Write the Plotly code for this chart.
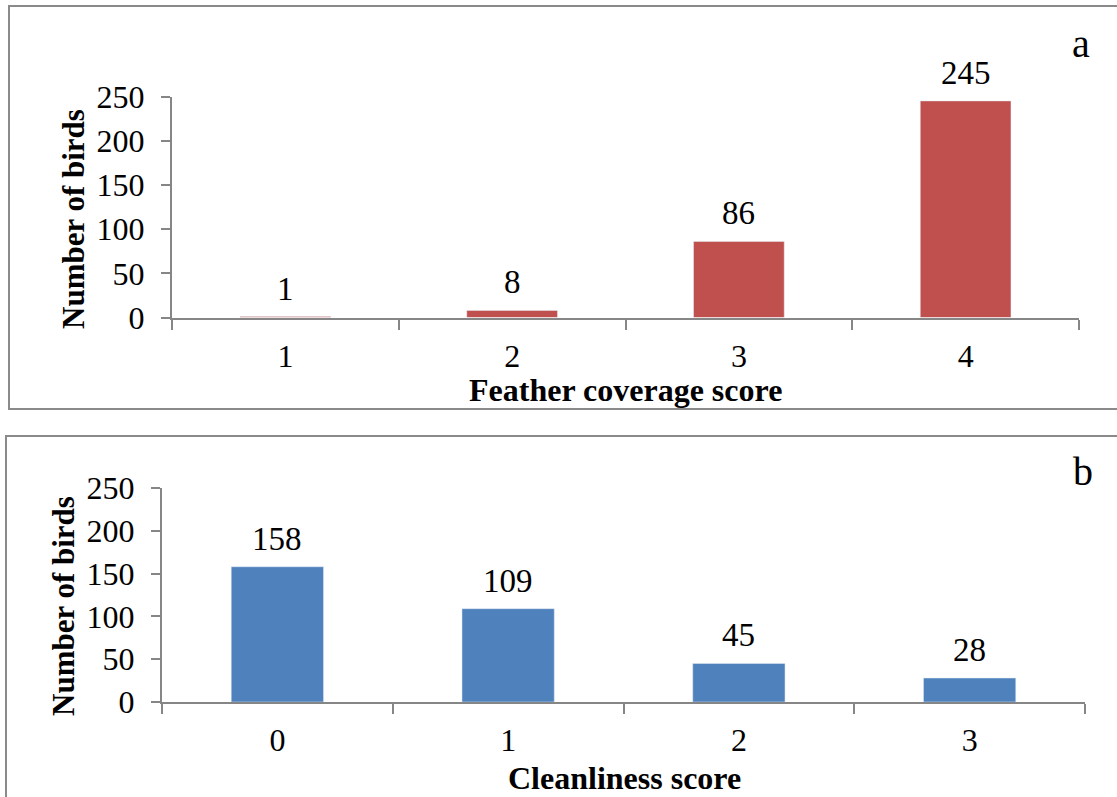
import plotly.graph_objects as go

# Panel a: feather coverage
feather_scores = ["1", "2", "3", "4"]
feather_counts = [1, 8, 86, 245]

# Panel b: cleanliness
clean_scores = ["0", "1", "2", "3"]
clean_counts = [158, 109, 45, 28]

y_ticks = [0, 50, 100, 150, 200, 250]

W, H = 1117, 797
FONT = "Liberation Serif, Times New Roman, serif"
AXIS_GREY = "#868686"
RED = "#C0504D"
BLUE = "#4F81BD"


def px_x(x):
    return x / W


def px_y(y):
    return 1 - y / H


fig = go.Figure()

fig.add_trace(go.Bar(x=feather_scores, y=feather_counts, marker_color=RED,
                     xaxis="x", yaxis="y", showlegend=False, hoverinfo="skip"))
fig.add_trace(go.Bar(x=clean_scores, y=clean_counts, marker_color=BLUE,
                     xaxis="x2", yaxis="y2", showlegend=False, hoverinfo="skip"))

tick_font = dict(family=FONT, size=32, color="black")

common_x = dict(type="category", range=[-0.5, 3.5], showline=True, linecolor=AXIS_GREY,
                linewidth=2, ticks="outside", ticklen=10, tickwidth=2, tickcolor=AXIS_GREY,
                tickson="boundaries", showgrid=False, zeroline=False,
                tickfont=tick_font, ticklabelstandoff=9, fixedrange=True)
common_y = dict(range=[0, 250], tickvals=y_ticks, showline=True, linecolor=AXIS_GREY,
                linewidth=2, ticks="outside", ticklen=9, tickwidth=2, tickcolor=AXIS_GREY,
                showgrid=False, zeroline=False, tickfont=tick_font,
                ticklabelstandoff=10, fixedrange=True)

fig.update_layout(
    width=W, height=H,
    margin=dict(l=0, r=0, t=0, b=0, autoexpand=False),
    paper_bgcolor="white", plot_bgcolor="rgba(0,0,0,0)",
    bargap=0.6,
    xaxis=dict(domain=[px_x(172), px_x(1079)], anchor="y", **common_x),
    yaxis=dict(domain=[px_y(317.5), px_y(96.5)], anchor="x", **common_y),
    xaxis2=dict(domain=[px_x(162), px_x(1085)], anchor="y2", **common_x),
    yaxis2=dict(domain=[px_y(702), px_y(488)], anchor="x2", **common_y),
)

# Panel frames
fig.add_shape(type="rect", xref="paper", yref="paper",
              x0=px_x(9), x1=px_x(1125), y0=px_y(409), y1=px_y(6),
              line=dict(color="#8A8A8A", width=2), fillcolor="rgba(0,0,0,0)", layer="below")
fig.add_shape(type="rect", xref="paper", yref="paper",
              x0=px_x(6), x1=px_x(1125), y0=px_y(805), y1=px_y(436),
              line=dict(color="#8A8A8A", width=2), fillcolor="rgba(0,0,0,0)", layer="below")

# Data labels above bars (category index positions on the category axes)
label_font = dict(family=FONT, size=33, color="black")
for i, val in enumerate(feather_counts):
    fig.add_annotation(x=i, y=val, xref="x", yref="y", text=str(val),
                       showarrow=False, yanchor="middle", yshift=28, font=label_font)
for i, val in enumerate(clean_counts):
    fig.add_annotation(x=i, y=val, xref="x2", yref="y2", text=str(val),
                       showarrow=False, yanchor="middle", yshift=28, font=label_font)

# Axis titles
title_font = dict(family=FONT, size=32, color="black")
fig.add_annotation(x=px_x(625), y=px_y(390), xref="paper", yref="paper",
                   text="<b>Feather coverage score</b>", showarrow=False,
                   xanchor="center", yanchor="middle", font=title_font)
fig.add_annotation(x=px_x(624), y=px_y(778), xref="paper", yref="paper",
                   text="<b>Cleanliness score</b>", showarrow=False,
                   xanchor="center", yanchor="middle", font=title_font)
fig.add_annotation(x=px_x(73), y=px_y(219), xref="paper", yref="paper",
                   text="<b>Number of birds</b>", showarrow=False, textangle=-90,
                   xanchor="center", yanchor="middle", font=dict(family=FONT, size=31, color="black"))
fig.add_annotation(x=px_x(63), y=px_y(606), xref="paper", yref="paper",
                   text="<b>Number of birds</b>", showarrow=False, textangle=-90,
                   xanchor="center", yanchor="middle", font=dict(family=FONT, size=31, color="black"))

# Panel letters
letter_font = dict(family=FONT, size=40, color="black")
fig.add_annotation(x=px_x(1081), y=px_y(43), xref="paper", yref="paper", text="a",
                   showarrow=False, xanchor="center", yanchor="middle", font=letter_font)
fig.add_annotation(x=px_x(1083), y=px_y(471), xref="paper", yref="paper", text="b",
                   showarrow=False, xanchor="center", yanchor="middle", font=letter_font)

fig.write_html("out.html")
